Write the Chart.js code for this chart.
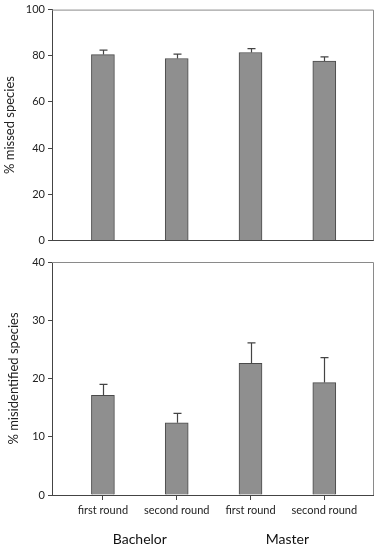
<!DOCTYPE html>
<html>
<head>
<meta charset="utf-8">
<script src="https://cdn.jsdelivr.net/npm/chart.js@4/dist/chart.umd.min.js"></script>
<style>
  html, body { margin: 0; padding: 0; background: #fff; }
  #wrap { position: relative; width: 382px; height: 550px; }
  #topBox { position: absolute; left: 0; top: 0; width: 382px; height: 250px; }
  #bottomBox { position: absolute; left: 0; top: 250px; width: 382px; height: 300px; }
</style>
</head>
<body>
<div id="wrap">
  <div id="topBox"><canvas id="missedChart" width="382" height="250"></canvas></div>
  <div id="bottomBox"><canvas id="misidChart" width="382" height="300"></canvas></div>
</div>
<script>
const categories = ['first round', 'second round', 'first round', 'second round'];
const groups = ['Bachelor', 'Master'];

const missedValues = [80.5, 78.8, 81.4, 77.7];
const missedErrors = [1.9, 1.9, 1.7, 1.8];

const misidValues = [17.1, 12.4, 22.6, 19.3];
const misidErrors = [1.9, 1.6, 3.5, 4.3];

const missedTicks = [0, 20, 40, 60, 80, 100];
const misidTicks = [0, 10, 20, 30, 40];

const FONT = 'Lato, "Open Sans", sans-serif';
const AXIS_COLOR = '#444';
const X_MIN = -0.69;
const X_MAX = 3.66;

// one-sided error bars, drawn from the y scale
const errorBars = {
    id: 'errorBars',
    afterDatasetsDraw(chart, args, opts) {
        const ctx = chart.ctx;
        const yScale = chart.scales.y;
        const meta = chart.getDatasetMeta(0);
        ctx.save();
        ctx.strokeStyle = '#444';
        ctx.lineWidth = 1.2;
        meta.data.forEach((bar, i) => {
            const v = opts.values[i];
            const top = yScale.getPixelForValue(v + opts.errors[i]);
            const base = yScale.getPixelForValue(v);
            const x = Math.round(bar.x) + 0.5;
            ctx.beginPath();
            ctx.moveTo(x, base);
            ctx.lineTo(x, top);
            ctx.moveTo(x - 4, top);
            ctx.lineTo(x + 4, top);
            ctx.stroke();
        });
        ctx.restore();
    }
};

// top and right frame lines
const frame = {
    id: 'frame',
    afterDraw(chart) {
        const { ctx, chartArea } = chart;
        ctx.save();
        ctx.strokeStyle = '#8a8a8a';
        ctx.lineWidth = 1;
        ctx.beginPath();
        ctx.moveTo(chartArea.left, chartArea.top + 0.5);
        ctx.lineTo(chartArea.right + 0.5, chartArea.top + 0.5);
        ctx.lineTo(chartArea.right + 0.5, chartArea.bottom);
        ctx.stroke();
        ctx.restore();
    }
};

function barData(values) {
    return values.map((v, i) => ({ x: i, y: v }));
}

function yScaleOptions(title, tickValues, titleTop) {
    return {
        min: tickValues[0],
        max: tickValues[tickValues.length - 1],
        afterBuildTicks: scale => { scale.ticks = tickValues.map(v => ({ value: v })); },
        afterFit: scale => { scale.width = 52; },
        ticks: { color: '#222', font: { family: FONT, size: 11 }, padding: 3 },
        grid: { drawOnChartArea: false, drawTicks: true, tickLength: 4, color: AXIS_COLOR },
        border: { color: AXIS_COLOR, width: 1 },
        title: {
            display: true,
            text: title,
            color: '#222',
            font: { family: FONT, size: 13 },
            padding: { top: titleTop, bottom: 0 }
        }
    };
}

function datasetStyle(values) {
    return {
        data: barData(values),
        backgroundColor: '#8f8f8f',
        borderColor: '#4a4a4a',
        borderWidth: 1,
        barThickness: 23
    };
}

new Chart(document.getElementById('missedChart'), {
    type: 'bar',
    data: { datasets: [datasetStyle(missedValues)] },
    options: {
        responsive: false,
        animation: false,
        layout: { padding: { top: 9, right: 9, bottom: 8, left: 0 } },
        plugins: {
            legend: { display: false },
            tooltip: { enabled: false },
            errorBars: { values: missedValues, errors: missedErrors }
        },
        scales: {
            x: {
                type: 'linear',
                min: X_MIN,
                max: X_MAX,
                offset: false,
                ticks: { display: false },
                grid: { drawOnChartArea: false, drawTicks: false, offset: false },
                border: { color: AXIS_COLOR, width: 1 }
            },
            y: yScaleOptions('% missed species', missedTicks, 2)
        }
    },
    plugins: [errorBars, frame]
});

new Chart(document.getElementById('misidChart'), {
    type: 'bar',
    data: { datasets: [datasetStyle(misidValues)] },
    options: {
        responsive: false,
        animation: false,
        layout: { padding: { top: 12, right: 9, bottom: 0, left: 0 } },
        plugins: {
            legend: { display: false },
            tooltip: { enabled: false },
            errorBars: { values: misidValues, errors: misidErrors }
        },
        scales: {
            x: {
                type: 'linear',
                min: X_MIN,
                max: X_MAX,
                offset: false,
                afterBuildTicks: scale => { scale.ticks = categories.map((c, i) => ({ value: i })); },
                afterFit: scale => { scale.height = 20; },
                ticks: {
                    color: '#222',
                    font: { family: FONT, size: 11 },
                    padding: 4,
                    maxRotation: 0,
                    autoSkip: false,
                    callback: (v, i) => categories[i]
                },
                grid: { drawOnChartArea: false, drawTicks: true, tickLength: 5, color: AXIS_COLOR, offset: false },
                border: { color: AXIS_COLOR, width: 1 }
            },
            x2: {
                type: 'linear',
                position: 'bottom',
                min: X_MIN,
                max: X_MAX,
                offset: false,
                afterBuildTicks: scale => {
                    scale.ticks = groups.map((g, i) => ({ value: i * 2 + 0.5 }));
                },
                afterFit: scale => { scale.height = 35; },
                ticks: {
                    color: '#111',
                    font: { family: FONT, size: 14 },
                    padding: 16,
                    maxRotation: 0,
                    autoSkip: false,
                    callback: (v, i) => groups[i]
                },
                grid: { display: false, drawTicks: false },
                border: { display: false }
            },
            y: yScaleOptions('% misidentified species', misidTicks, 6)
        }
    },
    plugins: [errorBars, frame]
});
</script>
</body>
</html>
